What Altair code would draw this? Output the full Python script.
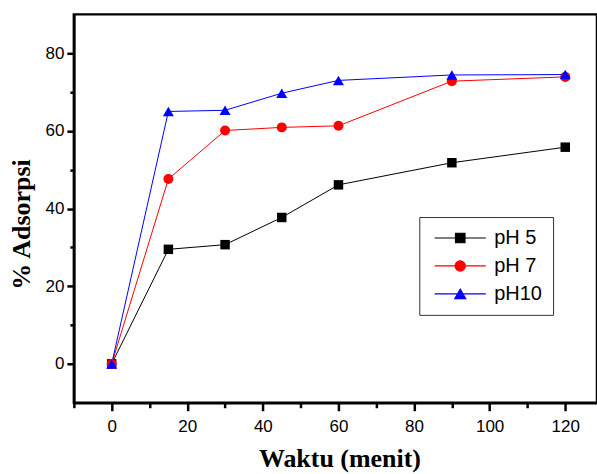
import altair as alt
import pandas as pd

# ---- data ----
time_min = [0, 15, 30, 45, 60, 90, 120]
ph5 = [0.0, 29.5, 30.7, 37.7, 46.1, 51.8, 55.8]
ph7 = [0.0, 47.6, 60.1, 60.9, 61.3, 72.8, 73.9]
ph10 = [0.0, 65.0, 65.3, 69.7, 73.0, 74.4, 74.5]
series_names = ["pH 5", "pH 7", "pH10"]
series_colors = ["#000000", "#FF0000", "#0000FF"]
marker_shapes = ["square", "circle", "triangle-up"]
marker_sizes = [90, 100, 121]
x_ticks = [-10, 0, 10, 20, 30, 40, 50, 60, 70, 80, 90, 100, 110, 120]
y_ticks = [0, 10, 20, 30, 40, 50, 60, 70, 80]

# legend symbols: line segment + marker (custom SVG paths, unit = sqrt(size)/2)
legend_shapes = [
    "M-5.4,0H5.4M-1,-1H1V1H-1Z",
    "M-5.4,0H5.4M-1.08,0A1.08,1.08,0,1,1,1.08,0A1.08,1.08,0,1,1,-1.08,0Z",
    "M-5.4,0H5.4M0,-1L1.15,1H-1.15Z",
]

rows = []
for name, vals in zip(series_names, [ph5, ph7, ph10]):
    for t, v in zip(time_min, vals):
        rows.append({"series": name, "t": t, "v": v})
df = pd.DataFrame(rows)

xscale = alt.Scale(domain=[-10, 128.4], nice=False, zero=False)
yscale = alt.Scale(domain=[-10, 90], nice=False, zero=False)
color_scale = alt.Scale(domain=series_names, range=series_colors)

major_test = "datum.value % 20 === 0"

bottom_axis = alt.Axis(
    orient="bottom", values=x_ticks,
    labelExpr="datum.value % 20 === 0 ? datum.label : ''",
    tickSize={"condition": {"test": major_test, "value": 8}, "value": 5},
    tickWidth=2.5, tickColor="black",
    domainColor="black", domainWidth=2.5,
    labelFont="Liberation Sans", labelFontSize=17, labelColor="black",
    labelPadding=8, labelOverlap=False, labelFlush=False, grid=False,
    title="Waktu (menit)", titleFont="Liberation Serif", titleFontSize=26,
    titleFontWeight="bold", titleColor="black",
    titleX=266, titleY=64, titleBaseline="alphabetic", titleAlign="center",
)
left_axis = alt.Axis(
    orient="left", values=y_ticks,
    labelExpr="datum.value % 20 === 0 ? datum.label : ''",
    tickSize={"condition": {"test": major_test, "value": 7}, "value": 4},
    tickWidth=2.5, tickColor="black",
    domainColor="black", domainWidth=2.5,
    labelFont="Liberation Sans", labelFontSize=17, labelColor="black",
    labelPadding=3, labelOverlap=False, labelFlush=False, grid=False,
    title="% Adsorpsi", titleFont="Liberation Serif", titleFontSize=26,
    titleFontWeight="bold", titleColor="black", titleAngle=270,
    titleX=-44, titleY=210, titleBaseline="alphabetic", titleAlign="center",
)

# legend symbol path chosen per entry
shape_expr = (
    f"datum.value === '{series_names[0]}' ? '{legend_shapes[0]}' : "
    f"datum.value === '{series_names[1]}' ? '{legend_shapes[1]}' : '{legend_shapes[2]}'"
)

legend_cfg = alt.Legend(
    title=None, orient="none", legendX=346, legendY=203,
    strokeColor="#333333", fillColor="white", padding=11,
    symbolType={"expr": shape_expr},
    symbolStrokeColor={"expr": "scale('color', datum.value)"},
    symbolSize=90, symbolOffset=20, symbolStrokeWidth=1.2, symbolOpacity=1,
    labelFont="Liberation Sans", labelFontSize=20, labelColor="black",
    labelOffset=24, rowPadding=8,
)

lines = alt.Chart(df).mark_line(strokeWidth=1).encode(
    x=alt.X("t:Q", scale=xscale, axis=bottom_axis),
    y=alt.Y("v:Q", scale=yscale, axis=left_axis),
    color=alt.Color("series:N", scale=color_scale, legend=None),
    detail="series:N",
)

point_layers = []
for i, (name, shp, sz) in enumerate(zip(series_names, marker_shapes, marker_sizes)):
    point_layers.append(
        alt.Chart(df).transform_filter(alt.datum.series == name)
        .mark_point(filled=True, opacity=1, shape=shp, size=sz)
        .encode(
            x=alt.X("t:Q", scale=xscale),
            y=alt.Y("v:Q", scale=yscale),
            color=alt.Color("series:N", scale=color_scale,
                            legend=legend_cfg if i == 0 else None),
        )
    )

chart = (
    alt.layer(lines, *point_layers)
    .resolve_legend(color="independent")
    .properties(
        width=524, height=389,
        padding={"left": 74, "top": 14, "right": 0, "bottom": 71},
        autosize=alt.AutoSizeParams(type="none"),
        background="white",
    )
    .configure_view(stroke="black", strokeWidth=2.5)
)

chart.save("out.html", embed_options={"renderer": "svg", "actions": False})
